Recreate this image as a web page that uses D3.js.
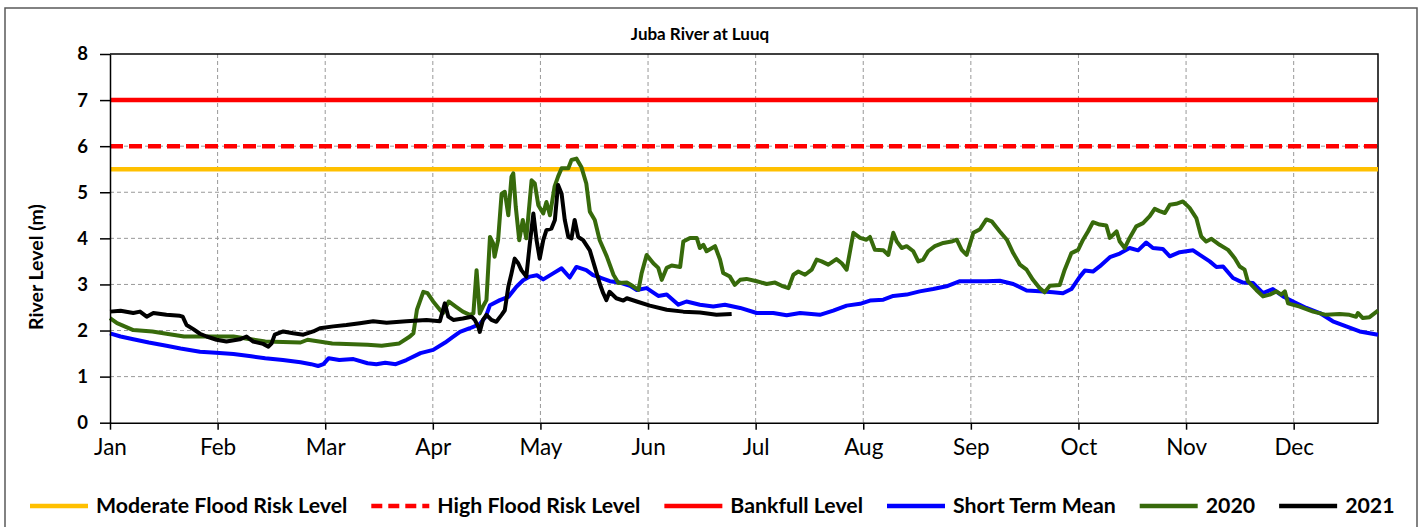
<!DOCTYPE html>
<html>
<head>
<meta charset="utf-8">
<script src="https://cdn.jsdelivr.net/npm/d3@7"></script>
<style>
  html, body { margin: 0; padding: 0; background: #fff; }
  svg { display: block; font-family: Lato, "Open Sans", sans-serif; }
</style>
</head>
<body>
<div id="chart"></div>
<script>
// Month labels and where each month starts (day of year)
var months = ["Jan", "Feb", "Mar", "Apr", "May", "Jun", "Jul", "Aug", "Sep", "Oct", "Nov", "Dec"];
var monthStarts = [0, 30.5, 61, 91.5, 122, 152.5, 183, 213.5, 244, 274.5, 305, 335.5];
var levelTicks = [0, 1, 2, 3, 4, 5, 6, 7, 8];

// Flood thresholds (m)
var moderateLevel = 5.5;
var highLevel = 6;
var bankfullLevel = 7;

// [day of year, river level m]
var shortTermMean = [[0,1.94],[3,1.87],[6.6,1.81],[11,1.74],[16,1.67],[20,1.61],[25.5,1.54],[30,1.52],[35,1.49],[40,1.44],[44,1.40],[49,1.36],[54,1.31],[57,1.27],[59,1.23],[60.5,1.27],[62,1.40],[65,1.36],[69,1.38],[73,1.29],[75.5,1.27],[78,1.30],[81,1.27],[84,1.36],[88,1.51],[91.6,1.58],[95,1.74],[97,1.85],[99.2,1.97],[102,2.05],[104.8,2.14],[106.5,2.3],[107.7,2.55],[110.5,2.66],[112.9,2.73],[115.2,2.95],[117.1,3.09],[119,3.17],[121,3.2],[122.8,3.11],[125.6,3.24],[128,3.35],[130.3,3.15],[132.2,3.38],[135,3.31],[136.9,3.2],[138.9,3.15],[141.7,3.07],[144.5,3.04],[147.4,2.97],[149.3,2.88],[152.1,2.92],[155.4,2.75],[157.8,2.78],[161.1,2.56],[163.4,2.63],[167.2,2.56],[171,2.52],[174.3,2.56],[178.6,2.49],[183.3,2.38],[188,2.38],[191.8,2.33],[195.6,2.38],[201.2,2.34],[205,2.43],[208.8,2.54],[212.6,2.58],[215.4,2.65],[219.2,2.67],[222,2.75],[225.8,2.78],[229.5,2.85],[233.3,2.9],[237.1,2.96],[240.9,3.07],[244.7,3.07],[248.4,3.07],[252.2,3.08],[256,3.01],[259.8,2.87],[263.5,2.85],[267.3,2.83],[270.1,2.81],[272.5,2.9],[274.9,3.17],[276.3,3.3],[278.6,3.28],[280.5,3.39],[283.4,3.59],[286.2,3.67],[289,3.79],[291.4,3.74],[293.7,3.91],[295.6,3.79],[298.4,3.77],[300.4,3.61],[303.2,3.7],[307,3.74],[308.9,3.64],[311.7,3.5],[313.6,3.38],[315.5,3.39],[318.3,3.14],[321.1,3.04],[324,3.03],[326.8,2.81],[329.6,2.9],[332.5,2.74],[335.3,2.63],[339.1,2.49],[342.9,2.38],[346.6,2.2],[350.4,2.09],[354.2,1.98],[359.4,1.91]];

var level2020 = [[0,2.27],[2,2.16],[6.6,2.01],[12,1.98],[16,1.93],[21,1.87],[25.5,1.87],[35,1.87],[44,1.76],[54,1.74],[56,1.80],[63,1.72],[73,1.69],[77,1.67],[82,1.72],[85,1.87],[86,1.94],[87,2.45],[88.8,2.84],[90,2.81],[91.6,2.63],[93.5,2.45],[94.4,2.38],[96,2.63],[98,2.52],[100,2.41],[102,2.34],[103,2.37],[103.9,3.31],[104.8,2.37],[105.7,2.52],[106.7,2.66],[107.7,4.03],[108.6,3.89],[109,3.6],[110,3.96],[111,4.97],[111.9,5.01],[112.9,4.5],[113.8,5.34],[114.3,5.41],[115,4.69],[116,3.96],[117,4.4],[118,4.0],[119.5,5.26],[120.4,5.19],[121.4,4.72],[122.8,4.54],[123.7,4.79],[124.7,4.5],[126,5.12],[127,5.34],[128,5.52],[129.9,5.52],[130.8,5.7],[132.2,5.73],[133.6,5.55],[135,5.19],[136,4.58],[137.4,4.4],[138.8,3.96],[140.8,3.61],[142.7,3.21],[144.1,3.03],[146.5,3.04],[148.3,2.96],[149.8,2.88],[150.7,3.25],[152.1,3.64],[154,3.46],[155.4,3.36],[156.4,3.10],[157.8,3.36],[159.2,3.41],[161.6,3.38],[162.5,3.93],[164.4,4.01],[166.3,4.01],[167.2,3.79],[168.2,3.86],[169.1,3.72],[171.5,3.83],[172.9,3.54],[173.8,3.25],[175.7,3.17],[177.1,2.99],[178.6,3.10],[180.4,3.12],[183.3,3.07],[186.1,3.01],[188.5,3.04],[190.4,2.97],[192.3,2.92],[193.7,3.21],[195.1,3.28],[197,3.21],[198.9,3.32],[200.3,3.54],[201.7,3.5],[203.6,3.43],[205.9,3.55],[207.4,3.46],[208.8,3.32],[210.7,4.12],[212.6,4.01],[214.4,3.97],[215.4,4.03],[216.8,3.75],[219.2,3.74],[220.6,3.64],[222,4.12],[223,3.93],[224.4,3.79],[225.8,3.83],[227.7,3.72],[229.1,3.5],[230.5,3.54],[231.9,3.72],[233.8,3.83],[236.2,3.9],[238.5,3.93],[240,3.97],[241.4,3.75],[242.8,3.64],[244.7,4.12],[246.6,4.2],[248.4,4.41],[249.9,4.37],[252.2,4.15],[254.2,3.97],[256,3.68],[257.9,3.43],[259.8,3.32],[261.6,3.1],[263.5,2.92],[264.9,2.83],[266.4,2.97],[269.2,2.99],[270.6,3.32],[272.5,3.68],[274.4,3.75],[275.8,3.97],[277.2,4.15],[278.6,4.35],[280.5,4.30],[282.4,4.28],[283.4,4.01],[285.3,4.15],[286.2,3.93],[287.6,3.79],[289,4.01],[290.9,4.26],[292.8,4.33],[294.7,4.48],[296.1,4.64],[297.5,4.59],[299,4.55],[300.4,4.73],[302.2,4.75],[304.1,4.8],[306,4.66],[307.9,4.44],[309.3,4.04],[310.7,3.93],[312.2,3.99],[314.5,3.86],[316.9,3.75],[318.8,3.57],[320.2,3.39],[321.6,3.32],[322.5,3.07],[324.9,2.88],[326.8,2.74],[328.7,2.78],[330.6,2.85],[332,2.78],[333,2.85],[333.9,2.59],[337.2,2.52],[341,2.41],[344.7,2.34],[348.5,2.36],[351.3,2.34],[353.2,2.30],[353.7,2.38],[355.1,2.27],[357,2.29],[359.4,2.43]];

var level2021 = [[0,2.41],[3,2.43],[6.6,2.38],[8.5,2.41],[10.4,2.30],[12.3,2.38],[16,2.34],[19.8,2.32],[20.6,2.30],[21.7,2.12],[23.6,2.03],[25.5,1.93],[27.4,1.87],[30.2,1.80],[33,1.76],[36.8,1.81],[38.7,1.87],[40.6,1.76],[43.4,1.71],[44.9,1.65],[45.8,1.72],[46.7,1.91],[49.1,1.98],[51.9,1.94],[54.8,1.91],[57.6,1.98],[59.5,2.05],[63.3,2.09],[67,2.12],[70.8,2.16],[74.6,2.20],[78.4,2.17],[84,2.20],[89.7,2.23],[93.5,2.20],[94.9,2.59],[95.9,2.30],[97.3,2.23],[100,2.26],[102.5,2.30],[103.4,2.23],[104.4,2.08],[104.8,1.97],[105.7,2.23],[106.7,2.34],[108.1,2.23],[109.5,2.19],[111,2.34],[111.9,2.44],[112.9,2.95],[113.8,3.24],[114.7,3.56],[115.7,3.46],[116.6,3.31],[118,3.17],[119,3.89],[120,4.54],[120.9,3.96],[121.8,3.56],[122.8,3.96],[123.7,4.18],[125.1,4.21],[126.1,4.40],[127,5.16],[128,4.97],[128.9,4.40],[129.9,4.03],[130.8,4.0],[131.7,4.40],[132.7,4.03],[134.1,3.96],[136,3.74],[137.4,3.38],[138.8,3.02],[139.8,2.81],[140.7,2.66],[141.6,2.84],[143.5,2.70],[145.5,2.65],[146.5,2.70],[149.3,2.63],[153,2.54],[157.8,2.45],[162.5,2.41],[167.2,2.39],[171.9,2.34],[176.2,2.36]];

var width = 1428, height = 527;
var plot = {left: 110, right: 1378, top: 54, bottom: 422.7};

var svg = d3.select("#chart").append("svg")
    .attr("width", width)
    .attr("height", height);

// outer chart frame (runs off the bottom of the picture)
svg.append("rect")
    .attr("x", 5).attr("y", 8)
    .attr("width", 1412).attr("height", 560)
    .attr("fill", "none")
    .attr("stroke", "#595959")
    .attr("stroke-width", 1.5);

var x = d3.scaleLinear().domain([0, 359.4]).range([plot.left, plot.right]);
var y = d3.scaleLinear().domain([0, 8]).range([plot.bottom, plot.top]);

// dashed grid
svg.append("g").selectAll("line.h")
    .data(levelTicks.slice(1, -1))
    .enter().append("line")
    .attr("x1", plot.left).attr("x2", plot.right)
    .attr("y1", function(d) { return y(d); }).attr("y2", function(d) { return y(d); })
    .attr("stroke", "#999").attr("stroke-width", 1).attr("stroke-dasharray", "4,3");
svg.append("g").selectAll("line.v")
    .data(monthStarts.slice(1))
    .enter().append("line")
    .attr("x1", function(d) { return x(d); }).attr("x2", function(d) { return x(d); })
    .attr("y1", plot.top).attr("y2", plot.bottom)
    .attr("stroke", "#999").attr("stroke-width", 1).attr("stroke-dasharray", "4,3");

// top and right border of the plot area
svg.append("path")
    .attr("d", "M" + plot.left + "," + plot.top + "H" + plot.right + "V" + plot.bottom)
    .attr("fill", "none").attr("stroke", "#000").attr("stroke-width", 1.5);

// threshold lines
var thresholds = [
    {value: moderateLevel, color: "#FFC000", dash: null},
    {value: highLevel, color: "#FF0000", dash: "13,6"},
    {value: bankfullLevel, color: "#FF0000", dash: null}
];
svg.append("g").selectAll("line")
    .data(thresholds)
    .enter().append("line")
    .attr("x1", plot.left).attr("x2", plot.right)
    .attr("y1", function(d) { return y(d.value); }).attr("y2", function(d) { return y(d.value); })
    .attr("stroke", function(d) { return d.color; })
    .attr("stroke-width", 4.5)
    .attr("stroke-dasharray", function(d) { return d.dash; });

var line = d3.line()
    .x(function(d) { return x(d[0]); })
    .y(function(d) { return y(d[1]); });

var series = [
    {data: shortTermMean, color: "#0000FF"},
    {data: level2020, color: "#376A0B"},
    {data: level2021, color: "#000000"}
];
svg.append("g").selectAll("path")
    .data(series)
    .enter().append("path")
    .attr("d", function(d) { return line(d.data); })
    .attr("fill", "none")
    .attr("stroke", function(d) { return d.color; })
    .attr("stroke-width", 4)
    .attr("stroke-linejoin", "round");

// axes
var xAxis = d3.axisBottom(x)
    .tickValues(monthStarts)
    .tickFormat(function(d, i) { return months[i]; })
    .tickSize(7).tickSizeOuter(0).tickPadding(9);
var gx = svg.append("g")
    .attr("transform", "translate(0," + plot.bottom + ")")
    .call(xAxis);
gx.selectAll("text").attr("font-size", 22.5).attr("fill", "#000").attr("font-family", "Lato, sans-serif");

var yAxis = d3.axisLeft(y)
    .tickValues(levelTicks)
    .tickSize(10).tickSizeOuter(0).tickPadding(12);
var gy = svg.append("g")
    .attr("transform", "translate(" + plot.left + ",0)")
    .call(yAxis);
gy.selectAll("text").attr("font-size", 18.5).attr("font-weight", "bold").attr("fill", "#000").attr("font-family", "Lato, sans-serif");

svg.selectAll(".domain, .tick line").attr("stroke", "#000").attr("stroke-width", 1.5);

// titles
svg.append("text")
    .attr("x", 700).attr("y", 40)
    .attr("text-anchor", "middle")
    .attr("font-size", 17).attr("font-weight", "bold")
    .text("Juba River at Luuq");

svg.append("text")
    .attr("transform", "translate(43,267) rotate(-90)")
    .attr("text-anchor", "middle")
    .attr("font-size", 19.5).attr("font-weight", "bold")
    .text("River Level (m)");

// legend, laid out left to right
var legendItems = [
    {label: "Moderate Flood Risk Level", color: "#FFC000", dash: null},
    {label: "High Flood Risk Level", color: "#FF0000", dash: "11,6"},
    {label: "Bankfull Level", color: "#FF0000", dash: null},
    {label: "Short Term Mean", color: "#0000FF", dash: null},
    {label: "2020", color: "#376A0B", dash: null},
    {label: "2021", color: "#000000", dash: null}
];
var legend = svg.append("g");
var cursor = 30, legendY = 506;
legendItems.forEach(function(item) {
    legend.append("line")
        .attr("x1", cursor).attr("x2", cursor + 58)
        .attr("y1", legendY).attr("y2", legendY)
        .attr("stroke", item.color).attr("stroke-width", 4.5)
        .attr("stroke-dasharray", item.dash);
    var t = legend.append("text")
        .attr("x", cursor + 66).attr("y", legendY + 7)
        .attr("font-size", 21.3).attr("font-weight", "bold")
        .text(item.label);
    cursor += 66 + t.node().getComputedTextLength() + 24;
});
</script>
</body>
</html>
